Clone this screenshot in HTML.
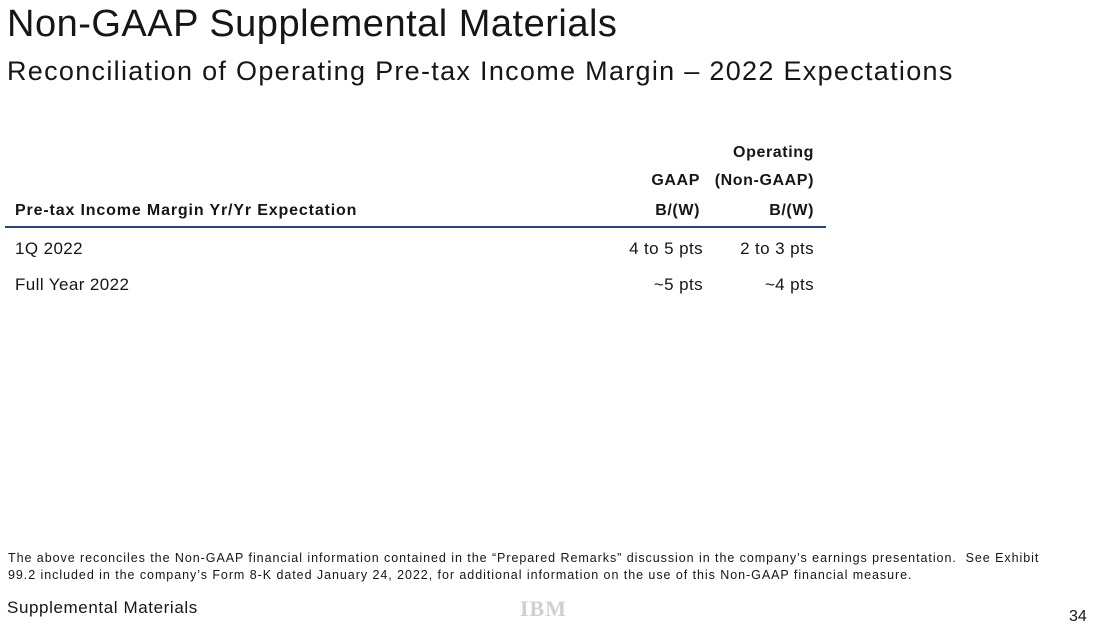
<!DOCTYPE html>
<html><head><meta charset="utf-8"><style>
body{margin:0;width:1098px;height:630px;background:#fff;position:relative;overflow:hidden;font-family:"Liberation Sans",sans-serif;color:#161616}
.a{position:absolute;white-space:nowrap}
.r{text-align:right}
.h{font-size:16px;font-weight:bold;letter-spacing:0.6px}
.d{font-size:17px;letter-spacing:0.4px}
</style></head><body>
<div class="a" style="left:7px;top:3px;font-size:38px;letter-spacing:0.5px">Non-GAAP Supplemental Materials</div>
<div class="a" style="left:7px;top:56px;font-size:27px;letter-spacing:1.3px">Reconciliation of Operating Pre-tax Income Margin – 2022 Expectations</div>
<div>
<div class="a r h" style="right:284px;top:144px">Operating</div>
<div class="a r h" style="right:398px;top:172px">GAAP</div>
<div class="a r h" style="right:284px;top:172px">(Non-GAAP)</div>
<div class="a h" style="left:15px;top:202px;letter-spacing:0.85px">Pre-tax Income Margin Yr/Yr Expectation</div>
<div class="a r h" style="right:398px;top:202px">B/(W)</div>
<div class="a r h" style="right:284px;top:202px">B/(W)</div>
<div class="a" style="left:5px;top:226px;width:821px;height:2px;background:#2e3f8f"></div>
<div class="a d" style="left:15px;top:239px">1Q 2022</div>
<div class="a r d" style="right:395px;top:239px">4 to 5 pts</div>
<div class="a r d" style="right:284px;top:239px">2 to 3 pts</div>
<div class="a d" style="left:15px;top:275px">Full Year 2022</div>
<div class="a r d" style="right:395px;top:275px">~5 pts</div>
<div class="a r d" style="right:284px;top:275px">~4 pts</div>
</div>
<div class="a" style="left:8px;top:550px;font-size:12.5px;line-height:17px;letter-spacing:0.95px;white-space:normal;width:1052px">The above reconciles the Non-GAAP financial information contained in the “Prepared Remarks” discussion in the company’s earnings presentation.&nbsp; See Exhibit 99.2 included in the company’s Form 8-K dated January 24, 2022, for additional information on the use of this Non-GAAP financial measure.</div>
<div class="a" style="left:7px;top:598px;font-size:17px;letter-spacing:0.6px">Supplemental Materials</div>
<div class="a" style="left:520px;top:596px;font-size:22px;font-weight:bold;color:#d0d0d0;letter-spacing:1px;font-family:'Liberation Serif',serif">IBM</div>
<div class="a" style="left:1069px;top:608px;font-size:16px">34</div>
</body></html>
